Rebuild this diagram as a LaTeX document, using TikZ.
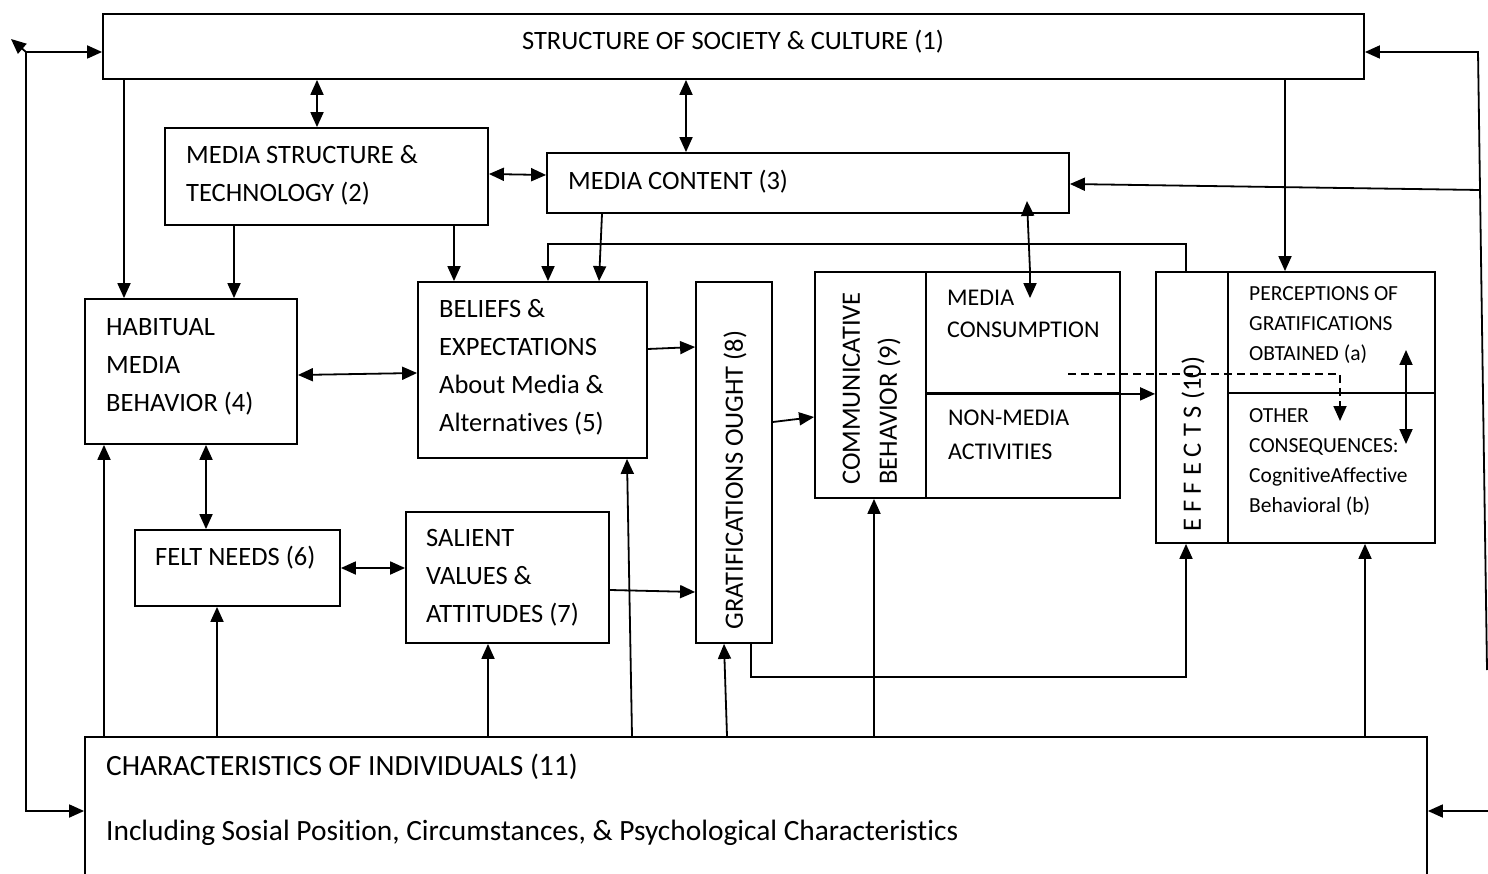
\documentclass[tikz,border=0pt]{standalone}
\usepackage{fontspec}
\setmainfont{Carlito}[Ligatures=CommonOff]
\usetikzlibrary{arrows.meta,calc}

\begin{document}
\begin{tikzpicture}[x=1pt, y=-1pt,
    box/.style={draw, line width=1.8pt, inner sep=0pt},
    txt/.style={anchor=west, align=left, inner sep=0pt, font=\fontsize{26.5}{38}\selectfont},
    small/.style={anchor=west, align=left, inner sep=0pt, font=\fontsize{21.5}{30}\selectfont},
    arr/.style={-{Triangle[length=15pt,width=13pt]}, line width=1.8pt},
    arr2/.style={{Triangle[length=15pt,width=13pt]}-{Triangle[length=15pt,width=13pt]}, line width=1.8pt}]

  \useasboundingbox (0,0) rectangle (1488,874);
  \clip (0,0) rectangle (1488,874);

  % Boxes
  \node[box, minimum width=1261, minimum height=65] (soc) at (733.5,46.5) {};
  \node[box, minimum width=323, minimum height=97] (mst) at (326.5,176.5) {};
  \node[box, minimum width=522, minimum height=60] (cont) at (808,183) {};
  \node[box, minimum width=212, minimum height=145] (hab) at (191,371.5) {};
  \node[box, minimum width=229, minimum height=176] (bel) at (532.5,370) {};
  \node[box, minimum width=205, minimum height=76] (felt) at (237.5,568) {};
  \node[box, minimum width=203, minimum height=131] (sal) at (507.5,577.5) {};
  \node[box, minimum width=76, minimum height=361] (grat) at (734,462.5) {};
  \node[box, minimum width=111, minimum height=226] (comm) at (870.5,385) {};
  \node[box, minimum width=194, minimum height=121] (cons) at (1023,332.5) {};
  \node[box, minimum width=194, minimum height=105] (non) at (1023,445.5) {};
  \node[box, minimum width=72, minimum height=271] (eff) at (1192,407.5) {};
  \node[box, minimum width=207, minimum height=121] (perc) at (1331.5,332.5) {};
  \node[box, minimum width=207, minimum height=150] (other) at (1331.5,468) {};
  \node[box, minimum width=1342, minimum height=200] (ind) at (756,837) {};

  % Texts
  \node[txt, anchor=center] (socT) at (733,42) {STRUCTURE OF SOCIETY \& CULTURE (1)};
  \node[txt] (mstT) at (186,175) {MEDIA STRUCTURE \&\\TECHNOLOGY (2)};
  \node[txt] (contT) at (568,182) {MEDIA CONTENT (3)};
  \node[txt] (habT) at (106,366.5) {HABITUAL\\MEDIA\\BEHAVIOR (4)};
  \node[txt] (belT) at (439,367) {BELIEFS \&\\EXPECTATIONS\\About Media \&\\Alternatives (5)};
  \node[txt] (feltT) at (155,558) {FELT NEEDS (6)};
  \node[txt] (salT) at (426,578) {SALIENT\\VALUES \&\\ATTITUDES (7)};
  \node[txt, rotate=90, anchor=center] (gratT) at (735,480) {GRATIFICATIONS OUGHT (8)};
  \node[txt, rotate=90, font=\fontsize{26.5}{37}\selectfont] (commT) at (871.5,485) {COMMUNICATIVE\\BEHAVIOR (9)};
  \node[txt, font=\fontsize{24}{32}\selectfont] (consT) at (947,314) {MEDIA\\CONSUMPTION};
  \node[txt, font=\fontsize{24}{34}\selectfont] (nonT) at (948,435) {NON-MEDIA\\ACTIVITIES};
  \node[txt, rotate=90, anchor=center] (effT) at (1193,444) {E F F E C T S (10)};
  \node[small] (percT) at (1249,325.5) {PERCEPTIONS OF\\GRATIFICATIONS\\OBTAINED (a)};
  \node[small] (otherT) at (1249,462) {OTHER\\CONSEQUENCES:\\CognitiveAffective\\Behavioral (b)};
  \node[txt, font=\fontsize{29.4}{40}\selectfont] (indT) at (106,767) {CHARACTERISTICS OF INDIVIDUALS (11)};
  \node[txt, font=\fontsize{29.4}{40}\selectfont] (ind2T) at (106,833) {Including Sosial Position, Circumstances, \& Psychological Characteristics};

  % Loose ends
  \coordinate (lt) at (26,52);
  \coordinate (lb) at (26,811);
  \coordinate (rt) at (1478,52);
  \coordinate (rb) at (1487,670);
  \coordinate (rm) at (1480,190);
  \coordinate (rbot) at (1488,811);
  \coordinate (c3in) at (1027,201);
  \coordinate (dash0) at (1068,374);

  % From structure of society
  \draw[arr2] (soc.south -| 317,0) -- (mst.north -| 317,0);
  \draw[arr2] (soc.south -| 686,0) -- (cont.north -| 686,0);
  \draw[arr] (soc.south -| 124,0) -- (hab.north -| 124,0);
  \draw[arr] (soc.south -| 1285,0) -- (perc.north -| 1285,0);

  % Media structure and content
  \draw[arr2] (mst.east |- 0,174) -- (cont.west |- 0,175);
  \draw[arr] (mst.south -| 234,0) -- (hab.north -| 234,0);
  \draw[arr] (mst.south -| 454,0) -- (bel.north -| 454,0);
  \draw[arr] (cont.south -| 602,0) -- (bel.north -| 599,0);
  \draw[arr2] (c3in) -- (cons.north -| 1030,0) -- ++(0,27);
  \draw[arr] (eff.north -| 1186,0) -- (1186,244) -- (548,244) -- (bel.north -| 548,0);

  % Middle row
  \draw[arr2] (hab.east |- 0,375) -- (bel.west |- 0,373);
  \draw[arr] (bel.east |- 0,349) -- (grat.west |- 0,347);
  \draw[arr] (grat.east |- 0,422) -- (comm.west |- 0,417);
  \draw[arr2] (hab.south -| 206,0) -- (felt.north -| 206,0);
  \draw[arr2] (felt.east |- 0,568) -- (sal.west |- 0,568);
  \draw[arr] (sal.east |- 0,590) -- (grat.west |- 0,592);
  \draw[arr] (grat.south -| 751,0) -- (751,677) -- (1186,677) -- (eff.south -| 1186,0);
  \draw[arr] (cons.south west) -- (eff.west |- cons.south west);
  \draw[arr, dash pattern=on 8pt off 5pt] (dash0) -- (1340,374) -- (1340,421);
  \draw[arr2] (1406,350) -- (1406,444);

  % From characteristics of individuals
  \draw[arr] (ind.north -| 104,0) -- (hab.south -| 104,0);
  \draw[arr] (ind.north -| 217,0) -- (felt.south -| 217,0);
  \draw[arr] (ind.north -| 488,0) -- (sal.south -| 488,0);
  \draw[arr] (ind.north -| 632,0) -- (bel.south -| 627,0);
  \draw[arr] (ind.north -| 727,0) -- (grat.south -| 724,0);
  \draw[arr] (ind.north -| 874,0) -- (comm.south -| 874,0);
  \draw[arr] (ind.north -| 1365,0) -- (other.south -| 1365,0);

  % Outer loops
  \draw[arr2] (ind.west |- lb) -- (lb) -- (lt) -- (soc.west |- lt);
  \draw[arr] (lt) -- ++(-15,-13);
  \draw[arr] (rb) -- (rt) -- (soc.east |- rt);
  \draw[arr] (rm) -- (cont.east |- 0,184);
  \draw[arr] (rbot) -- (ind.east |- rbot);

\end{tikzpicture}
\end{document}
